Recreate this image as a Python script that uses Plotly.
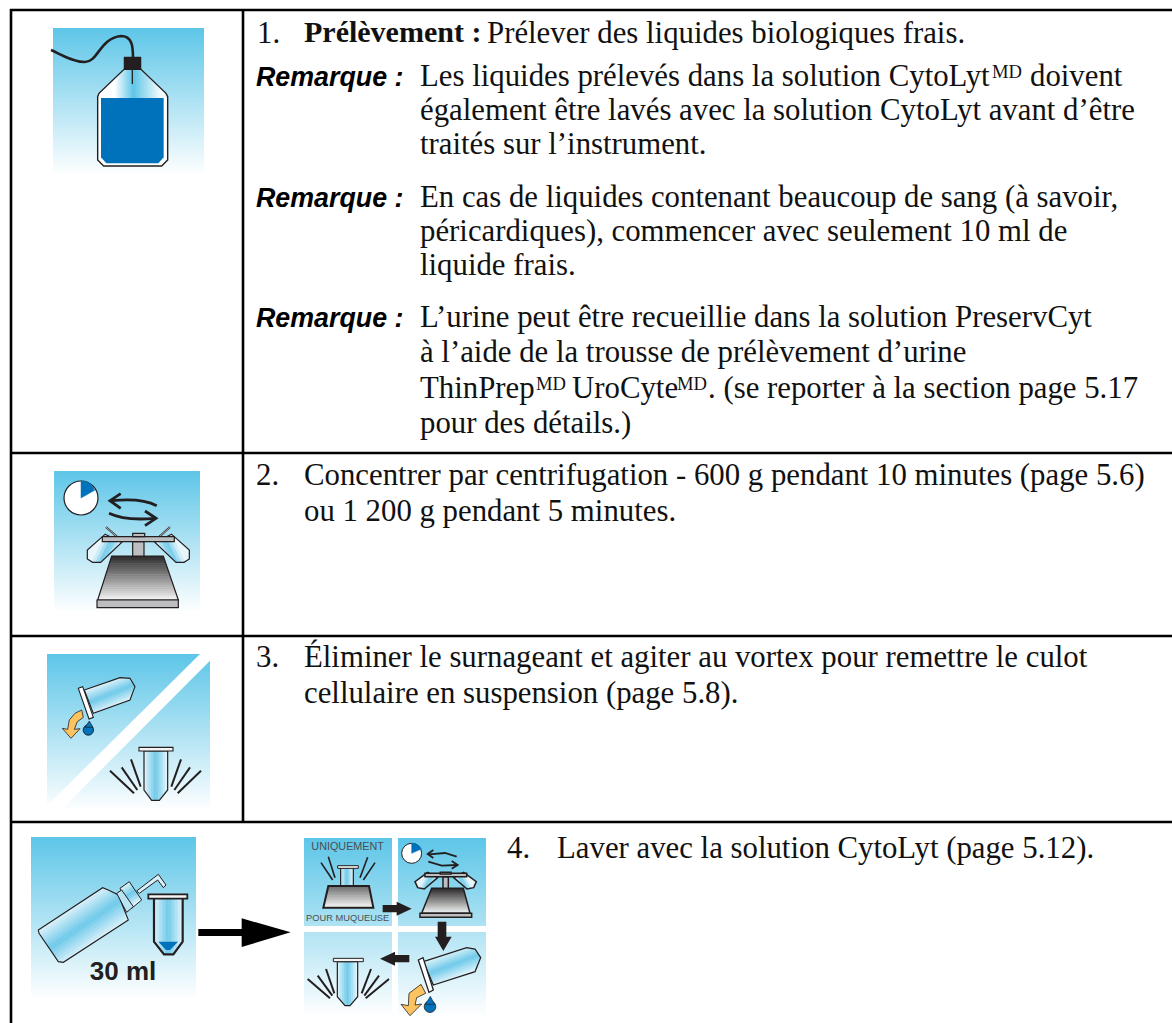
import numpy as np
import plotly.graph_objects as go

BODY_LINES = [
    "1.", "Prélever des liquides biologiques frais.",
    "Les liquides prélevés dans la solution CytoLyt", "doivent",
    "également être lavés avec la solution CytoLyt avant d’être",
    "traités sur l’instrument.",
    "En cas de liquides contenant beaucoup de sang (à savoir,",
    "péricardiques), commencer avec seulement 10 ml de",
    "liquide frais.",
    "L’urine peut être recueillie dans la solution PreservCyt",
    "à l’aide de la trousse de prélèvement d’urine",
    "ThinPrep", "UroCyte", ". (se reporter à la section page 5.17",
    "pour des détails.)",
    "2.", "Concentrer par centrifugation - 600 g pendant 10 minutes (page 5.6)",
    "ou 1 200 g pendant 5 minutes.",
    "3.", "Éliminer le surnageant et agiter au vortex pour remettre le culot",
    "cellulaire en suspension (page 5.8).",
    "4.", "Laver avec la solution CytoLyt (page 5.12).",
]
BODY_X = [257, 487, 420, 1030, 420, 420, 420, 420, 420, 420, 420, 420, 572, 708, 420,
          256, 304, 304, 256, 304, 304, 507, 557]
BODY_BASE = [43, 43, 86, 86, 120, 154, 207, 241, 275, 327, 362, 398, 398, 398, 433,
             485, 485, 521, 667, 667, 703, 858, 858]
MARK_LABEL = "MD"
MARK_X = [992, 536, 677]
MARK_BASE = [77, 389, 389]
STEP_TITLE = "Prélèvement :"
NOTE_LABEL = "Remarque :"
NOTE_BASE = [86, 207, 327]
VOLUME_LABEL = "30 ml"
SMALL_LABELS = ["UNIQUEMENT", "POUR MUQUEUSE"]

BODY_SIZE = 30.8
MARK_SIZE = 18.6
NOTE_SIZE = 26.8
BODY_SHIFT = 2.0
INK = "#231F20"
SKY = (94, 198, 232)
BLUE = "#0072BC"
GREY = "#BCBEC0"
YELLOW = "#FDC361"
TUBE_STOPS = [(0, "#E8F6FB"), (0.5, "#6FCAEA"), (1, "#EAF7FC")]
METAL_STOPS = [(0, "#2A2829"), (1, "#F4F4F4")]

shapes = []
traces = []


def Z(ox, oy, pts):
    return [(ox + x / 3, oy + y / 3) for x, y in pts]


def path_of(pts, close=True):
    s = "M" + " L".join(f"{x:.2f},{y:.2f}" for x, y in pts)
    return s + (" Z" if close else "")


def poly(pts, fill=None, line=None, w=1.0):
    shapes.append(dict(type="path", path=path_of(pts), fillcolor=fill or "rgba(0,0,0,0)",
                       line=dict(color=line or "rgba(0,0,0,0)", width=w if line else 0)))


def seg(p, q, color=INK, w=2.0):
    shapes.append(dict(type="line", x0=p[0], y0=p[1], x1=q[0], y1=q[1],
                       line=dict(color=color, width=w)))


def curve(d, color=INK, w=2.0):
    shapes.append(dict(type="path", path=d, line=dict(color=color, width=w)))


def circle(c, r, fill, line=None, w=1.0):
    shapes.append(dict(type="circle", x0=c[0] - r, x1=c[0] + r, y0=c[1] - r, y1=c[1] + r,
                       fillcolor=fill, line=dict(color=line or fill, width=w)))


def rgb(h):
    return np.array([int(h[i:i + 2], 16) for i in (1, 3, 5)], float)


def mix(stops, t):
    for (a, ca), (b, cb) in zip(stops, stops[1:]):
        if t <= b:
            f = (t - a) / (b - a)
            c = rgb(ca) * (1 - f) + rgb(cb) * f
            return "rgb(%d,%d,%d)" % tuple(c)
    return stops[-1][1]


def clip(pts, d, lo, hi):
    def cut(poly_, sign, lim):
        out = []
        for i in range(len(poly_)):
            a, b = np.array(poly_[i]), np.array(poly_[(i + 1) % len(poly_)])
            va, vb = sign * (a @ d - lim), sign * (b @ d - lim)
            if va >= 0:
                out.append(tuple(a))
            if va * vb < 0:
                out.append(tuple(a + (b - a) * va / (va - vb)))
        return out
    p = cut(pts, 1, lo)
    return cut(p, -1, hi) if p else p


def grad_poly(pts, start, end, stops, n=14, line=None, w=1.0):
    """Fill a polygon with a linear gradient drawn as narrow clipped bands."""
    a, b = np.array(start, float), np.array(end, float)
    L = np.linalg.norm(b - a)
    d = (b - a) / L
    base = a @ d
    vals = [np.array(p) @ d - base for p in pts]
    lo, hi = min(vals), max(vals)
    for i in range(n):
        t0 = lo + (hi - lo) * i / n
        t1 = lo + (hi - lo) * (i + 1) / n + 0.5
        c = clip(pts, d, base + t0, base + t1)
        if len(c) >= 3:
            poly(c, mix(stops, min(1, max(0, (t0 + t1) / 2 / L))))
    if line:
        poly(pts, None, line, w)


def panel(x0, x1, y0, y1, t0=0.0, t1=1.0):
    rows = int(round(y1 - y0))
    ys = np.linspace(y0, y1, rows + 1)
    z = [[v] for v in np.linspace(t0, t1, rows)]
    traces.append(go.Heatmap(x=[x0, x1], y=ys, z=z, zmin=0, zmax=1, showscale=False,
                             hoverinfo="skip",
                             colorscale=[[0, "rgb(%d,%d,%d)" % SKY], [1, "#FFFFFF"]]))


def centrifuge(ox, oy, pt, base, bar, col, cap, tube_l, axis, lw):
    for mirror in (False, True):
        t = [(2 * axis - x, y) if mirror else (x, y) for x, y in tube_l]
        a, b = t[0], t[-1]
        p0 = np.array(Z(ox, oy, [a])[0])
        p1 = np.array(Z(ox, oy, [b])[0])
        grad_poly(Z(ox, oy, t), p0, p1, TUBE_STOPS, 9, INK, lw)
    grad_poly(Z(ox, oy, pt), Z(ox, oy, [(0, pt[0][1])])[0], Z(ox, oy, [(0, pt[2][1])])[0],
              METAL_STOPS, 24, INK, lw)
    for r in (base, col, bar, cap):
        poly(Z(ox, oy, [(r[0], r[1]), (r[2], r[1]), (r[2], r[3]), (r[0], r[3])]), GREY, INK, lw)


def clock(c, r, tip, lw):
    circle(c, r, "#FFFFFF", INK, lw)
    top = (c[0], c[1] - r)
    shapes.append(dict(type="path",
                       path=f"M{c[0]:.2f},{c[1]:.2f} L{top[0]:.2f},{top[1]:.2f} "
                            f"Q{(top[0] + tip[0]) / 2 + r * .2:.2f},{top[1] - r * .02:.2f} {tip[0]:.2f},{tip[1]:.2f} Z",
                       fillcolor=BLUE, line=dict(color=BLUE, width=0.5)))


# ---------- icon 1: bottle ----------
panel(53, 204, 28, 176)
neck = Z(0, 0, [(293, 290), (297, 280), (372, 208), (423, 208), (498, 280), (503, 290), (503, 300), (293, 300)])
grad_poly(neck, (105, 0), (160, 0), [(0, "#FFFFFF"), (0.18, "#FFFFFF"), (0.52, "#5EC6E8"), (1, "#F2FAFD")], 35)
body = Z(0, 0, [(293, 294), (503, 294), (503, 480), (485, 498), (311, 498), (293, 480)])
poly(body, "#FFFFFF")
poly(Z(0, 0, [(293, 480), (293, 290), (297, 280), (372, 208), (423, 208), (498, 280), (503, 290),
              (503, 480), (485, 498), (311, 498)]), None, INK, 1.4)
poly(Z(0, 0, [(303, 294), (491, 294), (491, 472), (475, 490), (319, 490), (303, 472)]), BLUE)
poly(Z(0, 0, [(372, 171), (423, 171), (423, 208), (372, 208)]), INK, INK, 0.5)
seg((397 / 3, 69), (397 / 3, 84), INK, 1.3)
curve("M51,50 C62,55 73,62 85,62 C98,62 100,38 121,36 C132,36 133,46 133,58", INK, 2.6)

# ---------- icon 2: centrifuge ----------
OX, OY = 30, 455
panel(54, 200, 471, 613)
clock(Z(OX, OY, [(153, 129)])[0], 17, Z(OX, OY, [(194, 106)])[0], 1.2)
curve(f"M{OX + 380 / 3:.1f},{OY + 152 / 3:.1f} Q{OX + 335 / 3:.1f},{OY + 128 / 3:.1f} {OX + 245 / 3:.1f},{OY + 137 / 3:.1f}", INK, 2.8)
curve(f"M{OX + 272 / 3:.1f},{OY + 116 / 3:.1f} L{OX + 240 / 3:.1f},{OY + 137 / 3:.1f} L{OX + 272 / 3:.1f},{OY + 160 / 3:.1f}", INK, 2.8)
curve(f"M{OX + 237 / 3:.1f},{OY + 175 / 3:.1f} Q{OX + 285 / 3:.1f},{OY + 198 / 3:.1f} {OX + 375 / 3:.1f},{OY + 190 / 3:.1f}", INK, 2.8)
curve(f"M{OX + 345 / 3:.1f},{OY + 168 / 3:.1f} L{OX + 378 / 3:.1f},{OY + 190 / 3:.1f} L{OX + 345 / 3:.1f},{OY + 212 / 3:.1f}", INK, 2.8)
for (a, b) in [((228, 216), (262, 246)), ((420, 216), (387, 246))]:
    seg(Z(OX, OY, [a])[0], Z(OX, OY, [b])[0], INK, 1.8)
    seg(Z(OX, OY, [a])[0], Z(OX, OY, [b])[0], "#F4F4F4", 0.7)
centrifuge(OX, OY,
           [(245, 303), (400, 303), (445, 435), (203, 435)],
           (201, 435, 445, 458), (217, 245, 433, 260), (308, 260, 342, 303), (308, 235, 344, 245),
           [(225, 238), (172, 285), (172, 312), (188, 322), (212, 322), (275, 262)], 325, 1.2)

# ---------- icon 3: pour and vortex ----------
OX, OY = 30, 640
panel(47, 210, 654, 812)
poly(Z(OX, OY, [(510, 42), (540, 42), (540, 62), (88, 515), (50, 515), (50, 498)]), "#FFFFFF")
grad_poly(Z(OX, OY, [(163, 150), (270, 113), (300, 115), (315, 140), (300, 180), (190, 220)]),
          Z(OX, OY, [(215, 130)])[0], Z(OX, OY, [(245, 205)])[0], TUBE_STOPS, 12, INK, 1.1)
poly(Z(OX, OY, [(145, 145), (158, 140), (190, 232), (177, 237)]), "#FFFFFF", INK, 1.1)
poly(Z(OX, OY, [(155, 210), (160, 232), (142, 245), (133, 268), (150, 266), (123, 295), (97, 265),
                (113, 268), (118, 240), (135, 220)]), YELLOW, INK, 0.8)
circle(Z(OX, OY, [(175, 270)])[0], 5.2, BLUE, INK, 0.9)
poly(Z(OX, OY, [(178, 243), (165, 262), (189, 262)]), BLUE, INK, 0.7)
grad_poly(Z(OX, OY, [(342, 333), (342, 450), (365, 481), (388, 481), (413, 450), (413, 333)]),
          Z(OX, OY, [(342, 400)])[0], Z(OX, OY, [(413, 400)])[0], TUBE_STOPS, 10, INK, 1.2)
poly(Z(OX, OY, [(327, 322), (429, 322), (429, 333), (327, 333)]), "#F4F4F4", INK, 1.1)
for a, b in [((240, 392), (312, 460)), ((275, 382), (322, 450)), ((303, 358), (332, 440)),
             ((453, 358), (424, 440)), ((480, 382), (433, 450)), ((513, 392), (443, 460))]:
    seg(Z(OX, OY, [a])[0], Z(OX, OY, [b])[0], INK, 2.0)

# ---------- icon 4: wash bottle ----------
OX, OY = 20, 825
panel(31, 196, 837, 1000)
grad_poly(Z(OX, OY, [(55, 315), (248, 188), (265, 195), (295, 210), (325, 285), (130, 412), (115, 410), (57, 325)]),
          Z(OX, OY, [(150, 245)])[0], Z(OX, OY, [(228, 360)])[0], TUBE_STOPS, 14, INK, 1.1)
poly(Z(OX, OY, [(350, 198), (415, 148), (438, 180), (430, 188), (413, 165), (358, 205)]), "#D8F0F9", INK, 1.0)
grad_poly(Z(OX, OY, [(300, 190), (328, 170), (365, 225), (335, 250)]),
          Z(OX, OY, [(310, 180)])[0], Z(OX, OY, [(350, 238)])[0], TUBE_STOPS, 8, INK, 1.0)
poly(Z(OX, OY, [(290, 205), (305, 195), (340, 245), (320, 262)]), "#B8E4F4", INK, 1.0)
grad_poly(Z(OX, OY, [(400, 222), (400, 350), (432, 390), (460, 390), (490, 350), (490, 222)]),
          Z(OX, OY, [(400, 300)])[0], Z(OX, OY, [(490, 300)])[0], TUBE_STOPS, 10)
poly(Z(OX, OY, [(415, 350), (474, 350), (450, 375), (438, 375)]), BLUE)
curve(path_of(Z(OX, OY, [(402, 222), (402, 350), (432, 388), (460, 388), (488, 350), (488, 222)]), False), INK, 2.2)
poly(Z(OX, OY, [(385, 208), (502, 208), (502, 221), (385, 221)]), "#F4F4F4", INK, 1.8)
poly(Z(OX, OY, [(535, 312), (665, 312), (665, 280), (812, 322), (665, 366), (665, 333), (535, 333)]), "#000000")

# ---------- icon 5: four small panels ----------
OX, OY = 295, 825
grad_total = 577 - 39


def p5(x0, x1, y0, y1):
    panel(OX + x0 / 3, OX + x1 / 3, OY + y0 / 3, OY + y1 / 3, (y0 - 39) / grad_total, (y1 - 39) / grad_total)


p5(27, 291, 39, 303)
p5(309, 573, 39, 303)
p5(27, 291, 321, 577)
p5(309, 573, 321, 577)
# vortex, panel A
grad_poly(Z(OX, OY, [(137, 128), (175, 128), (175, 183), (137, 183)]), Z(OX, OY, [(137, 0)])[0], Z(OX, OY, [(175, 0)])[0], TUBE_STOPS, 8, INK, 1.2)
poly(Z(OX, OY, [(128, 122), (190, 122), (190, 130), (128, 130)]), "#F4F4F4", INK, 1.0)
grad_poly(Z(OX, OY, [(100, 183), (222, 183), (235, 248), (85, 248)]), Z(OX, OY, [(0, 183)])[0], Z(OX, OY, [(0, 248)])[0],
          [(0, "#6B6B6B"), (1, "#F8F8F8")], 14, INK, 2.0)
for a, b in [((78, 113), (113, 165)), ((100, 95), (120, 158)), ((218, 97), (195, 158)), ((240, 113), (205, 165))]:
    seg(Z(OX, OY, [a])[0], Z(OX, OY, [b])[0], INK, 1.6)
# centrifuge, panel B
clock(Z(OX, OY, [(350, 85)])[0], 10, Z(OX, OY, [(379, 72)])[0], 1.0)
curve(path_of(Z(OX, OY, [(485, 95), (450, 84), (402, 88)]), False), INK, 1.8)
curve(path_of(Z(OX, OY, [(415, 75), (398, 87), (415, 99)]), False), INK, 1.8)
curve(path_of(Z(OX, OY, [(400, 110), (440, 122), (485, 120)]), False), INK, 1.8)
curve(path_of(Z(OX, OY, [(470, 108), (488, 120), (470, 131)]), False), INK, 1.8)
centrifuge(OX, OY,
           [(410, 190), (505, 190), (525, 265), (380, 265)],
           (375, 265, 530, 277), (390, 145, 515, 155), (444, 155, 460, 190), (436, 142, 468, 147),
           [(398, 142), (360, 170), (368, 188), (388, 192), (428, 158)], 452, 1.5)
# pour, panel D
grad_poly(Z(OX, OY, [(385, 410), (515, 368), (540, 372), (557, 398), (540, 440), (415, 480)]),
          Z(OX, OY, [(445, 385)])[0], Z(OX, OY, [(475, 465)])[0], TUBE_STOPS, 12, INK, 1.3)
poly(Z(OX, OY, [(370, 405), (384, 398), (415, 495), (402, 502)]), "#FFFFFF", INK, 1.3)
poly(Z(OX, OY, [(378, 478), (392, 505), (365, 518), (360, 540), (380, 537), (345, 572), (318, 538),
                (340, 542), (342, 505)]), YELLOW, INK, 0.8)
circle(Z(OX, OY, [(405, 545)])[0], 5.8, BLUE, INK, 0.8)
poly(Z(OX, OY, [(406, 514), (391, 538), (419, 538)]), BLUE, INK, 0.6)
# tube, panel C
grad_poly(Z(OX, OY, [(127, 410), (127, 515), (150, 542), (165, 542), (188, 515), (188, 410)]),
          Z(OX, OY, [(127, 0)])[0], Z(OX, OY, [(188, 0)])[0], TUBE_STOPS, 9, INK, 1.2)
poly(Z(OX, OY, [(115, 400), (205, 400), (205, 410), (115, 410)]), "#F4F4F4", INK, 1.0)
for a, b in [((38, 462), (105, 520)), ((68, 452), (112, 512)), ((93, 432), (118, 505)),
             ((228, 432), (200, 505)), ((252, 452), (208, 512)), ((282, 462), (212, 520))]:
    seg(Z(OX, OY, [a])[0], Z(OX, OY, [b])[0], INK, 2.0)
# black connecting arrows
poly(Z(OX, OY, [(263, 240), (305, 240), (305, 230), (350, 251), (305, 272), (305, 262), (263, 262)]), INK)
poly(Z(OX, OY, [(428, 290), (454, 290), (454, 335), (470, 335), (445, 378), (420, 335), (428, 335)]), INK)
poly(Z(OX, OY, [(343, 390), (300, 390), (300, 380), (255, 401), (300, 422), (300, 412), (343, 412)]), INK)

# ---------- table rules ----------
RULE = 2.6
for y, x0 in [(10, 10), (453, 10), (636, 10), (822, 10)]:
    seg((x0, y), (1172, y), "#000000", RULE)
seg((11, 9), (11, 1023), "#000000", RULE)
seg((243, 9), (243, 823), "#000000", RULE)

# ---------- text ----------
traces.append(go.Scatter(x=BODY_X, y=[b - 0.3 * BODY_SIZE + BODY_SHIFT for b in BODY_BASE], mode="text", text=BODY_LINES,
                         textposition="middle right", hoverinfo="skip",
                         textfont=dict(family="Liberation Serif", size=BODY_SIZE, color="#111111")))
traces.append(go.Scatter(x=MARK_X, y=[b - 0.3 * MARK_SIZE + BODY_SHIFT for b in MARK_BASE], mode="text",
                         text=[MARK_LABEL] * 3, textposition="middle right", hoverinfo="skip",
                         textfont=dict(family="Liberation Serif", size=MARK_SIZE, color="#111111")))
traces.append(go.Scatter(x=[304], y=[43 - 0.3 * 30 + 0.5], mode="text", text=[STEP_TITLE],
                         textposition="middle right", hoverinfo="skip",
                         textfont=dict(family="Liberation Serif", size=30, color="#111111", weight="bold")))
traces.append(go.Scatter(x=[256] * 3, y=[b - 0.3 * NOTE_SIZE + 1 for b in NOTE_BASE], mode="text",
                         text=[NOTE_LABEL] * 3,
                         textposition="middle right", hoverinfo="skip",
                         textfont=dict(family="Liberation Sans", size=NOTE_SIZE, color="#000000",
                                       weight="bold", style="italic")))
traces.append(go.Scatter(x=[123], y=[973], mode="text", text=[VOLUME_LABEL],
                         textposition="middle center", hoverinfo="skip",
                         textfont=dict(family="Liberation Sans", size=26, color=INK, weight="bold")))
traces.append(go.Scatter(x=[OX + 158 / 3], y=[OY + 68 / 3], mode="text", text=SMALL_LABELS[:1],
                         textposition="middle center", hoverinfo="skip",
                         textfont=dict(family="Liberation Sans", size=10.8, color="#4D4D4F")))
traces.append(go.Scatter(x=[OX + 158 / 3], y=[OY + 282 / 3], mode="text", text=SMALL_LABELS[1:],
                         textposition="middle center", hoverinfo="skip",
                         textfont=dict(family="Liberation Sans", size=9.3, color="#4D4D4F")))

fig = go.Figure(traces)
fig.update_layout(
    width=1172, height=1023, margin=dict(l=0, r=0, t=0, b=0), showlegend=False,
    paper_bgcolor="#FFFFFF", plot_bgcolor="#FFFFFF", shapes=shapes,
    xaxis=dict(range=[0, 1172], visible=False, fixedrange=True),
    yaxis=dict(range=[1023, 0], visible=False, fixedrange=True),
)
fig.write_html("out.html", config=dict(displayModeBar=False),
               post_script="document.body.style.margin='0';document.body.style.overflow='hidden';")
